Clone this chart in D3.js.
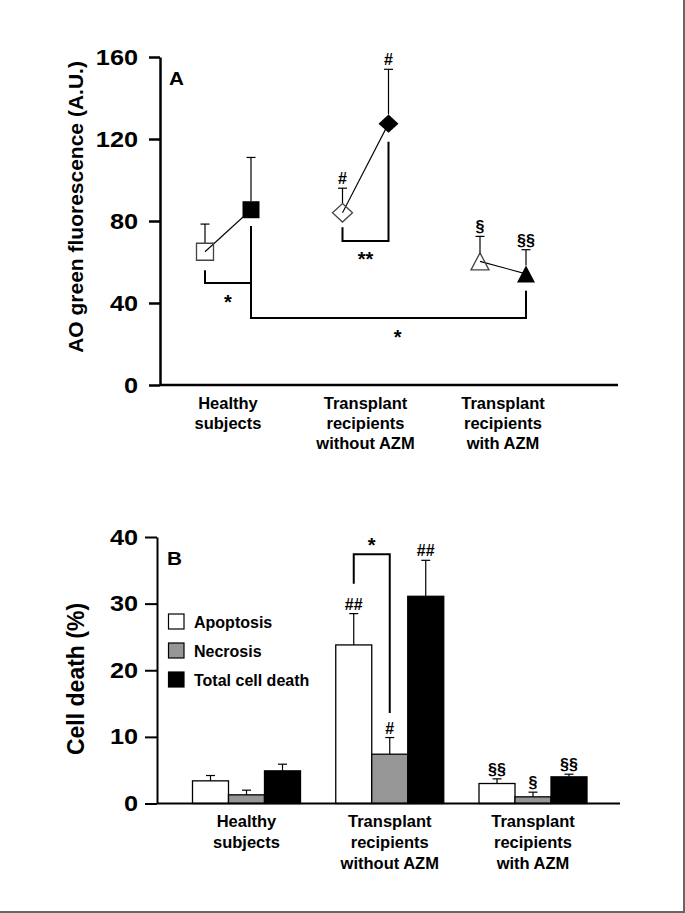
<!DOCTYPE html>
<html><head><meta charset="utf-8">
<script src="https://cdn.jsdelivr.net/npm/d3@7"></script>
<style>
html,body{margin:0;padding:0;background:#fff;}
svg{display:block;font-family:"Liberation Sans",Arial,sans-serif;}
</style></head>
<body>
<svg id="c" width="685" height="913"></svg>
<script>
// ---------- DATA ----------
const groups = ["Healthy subjects", "Transplant recipients without AZM", "Transplant recipients with AZM"];
const groupLines = [["Healthy","subjects"],["Transplant","recipients","without AZM"],["Transplant","recipients","with AZM"]];
// Panel A: AO green fluorescence (A.U.)
const aTicks = [0, 40, 80, 120, 160];
const aBaseline = [65, 84, 60.3];
const aBaselineErrTop = [78.5, 96, 72.5];
const aStim = [85.5, 127.5, 54.2];
const aStimErrTop = [111, 154, 66];
const aShapes = ["square", "diamond", "triangle"];
const aBaselineLabels = ["", "#", "§"];
const aStimLabels = ["", "#", "§§"];
// Panel B: Cell death (%)
const bTicks = [0, 10, 20, 30, 40];
const bSeries = ["Apoptosis", "Necrosis", "Total cell death"];
const bColors = ["#ffffff", "#969696", "#000000"];
const apoptosis = [3.4, 23.8, 3.0];
const apoptosisErr = [0.8, 4.7, 0.7];
const necrosis = [1.3, 7.4, 1.0];
const necrosisErr = [0.7, 2.5, 0.7];
const totalDeath = [4.9, 31.1, 4.0];
const totalDeathErr = [1.0, 5.4, 0.4];
const apoptosisLabels = ["", "##", "§§"];
const necrosisLabels = ["", "#", "§"];
const totalLabels = ["", "##", "§§"];

const svg = d3.select("#c");
const FONT = "Liberation Sans, Arial, sans-serif";
const STRETCH = 1.15;

// frame lines
svg.append("line").attr("x1",684).attr("x2",684).attr("y1",0).attr("y2",913).attr("stroke","#666").attr("stroke-width",2);
svg.append("line").attr("x1",0).attr("x2",685).attr("y1",912).attr("y2",912).attr("stroke","#666").attr("stroke-width",2);

function styleTicks(sel, tickLen, pad){
  sel.selectAll(".tick text").attr("font-family",FONT).attr("font-size",22).attr("font-weight","bold").attr("fill","#000")
    .attr("transform",`scale(${STRETCH},1)`).attr("x",-(tickLen+pad)/STRETCH);
}

// ---------- PANEL A ----------
const yA = d3.scaleLinear().domain([0,160]).range([385,57]);
const xA = d3.scalePoint().domain(groups).range([228, 503]);
const off = 23;
const gA = svg.append("g");

const axA = d3.axisLeft(yA).tickValues(aTicks).tickSize(11).tickPadding(11).tickSizeOuter(0);
const gAy = gA.append("g").attr("transform","translate(160,0)").call(axA);
gAy.select(".domain").attr("stroke","#000").attr("stroke-width",2.5);
gAy.selectAll(".tick line").attr("stroke","#000").attr("stroke-width",2.5);
styleTicks(gAy, 11, 11);
gA.append("line").attr("x1",160).attr("x2",618).attr("y1",yA(0)).attr("y2",yA(0)).attr("stroke","#000").attr("stroke-width",2.5);

gA.append("text").attr("transform",`translate(76,${207}) rotate(-90)`).attr("text-anchor","middle")
  .attr("font-family",FONT).attr("font-size",21).attr("font-weight","bold").attr("dy","0.35em").text("AO green fluorescence (A.U.)");
gA.append("text").attr("transform","translate(169,85) scale(1.15,1)").attr("font-family",FONT).attr("font-size",18).attr("font-weight","bold").text("A");

// x labels A
groupLines.forEach((lines,i)=>{
  lines.forEach((l,j)=>{
    gA.append("text").attr("x",xA(groups[i])).attr("y",409+j*20).attr("text-anchor","middle")
      .attr("font-family",FONT).attr("font-size",16.5).attr("font-weight","bold").text(l);
  });
});

function markerPath(shape, cx, cy){
  if(shape==="square"){const h=8.5;return `M${cx-h},${cy-h}H${cx+h}V${cy+h}H${cx-h}Z`;}
  if(shape==="diamond"){const w=10,h=9.2;return `M${cx},${cy-h}L${cx+w},${cy}L${cx},${cy+h}L${cx-w},${cy}Z`;}
  const w=9,h=8.5;return `M${cx},${cy-h}L${cx+w},${cy+h}L${cx-w},${cy+h}Z`;
}
function markerTop(shape, cy){ return shape==="square"?cy-8.5:(shape==="diamond"?cy-9.2:cy-8.5); }

groups.forEach((g,i)=>{
  const x0 = xA(g)-off, x1 = xA(g)+off;
  const y0 = yA(aBaseline[i]), y1 = yA(aStim[i]);
  const sh = aShapes[i];
  [[x0,y0,aBaselineErrTop[i],aBaselineLabels[i]],[x1,y1,aStimErrTop[i],aStimLabels[i]]].forEach(([x,y,et,lab])=>{
    const yt = yA(et);
    gA.append("line").attr("x1",x).attr("x2",x).attr("y1",markerTop(sh,y)).attr("y2",yt).attr("stroke","#000").attr("stroke-width",1.2);
    gA.append("line").attr("x1",x-4.5).attr("x2",x+4.5).attr("y1",yt).attr("y2",yt).attr("stroke","#000").attr("stroke-width",1.2);
    if(lab) gA.append("text").attr("x",x).attr("y",yt-4).attr("text-anchor","middle").attr("font-family",FONT)
      .attr("font-size",16).attr("font-weight","bold").text(lab);
  });
  gA.append("line").attr("x1",x0).attr("y1",y0).attr("x2",x1).attr("y2",y1).attr("stroke","#000").attr("stroke-width",1.1);
  gA.append("path").attr("d",markerPath(sh,x0,y0)).attr("fill","none").attr("stroke","#444").attr("stroke-width",1.3);
  gA.append("path").attr("d",markerPath(sh,x1,y1)).attr("fill","#000");
});

// significance brackets in A (values on the y scale)
const aBrackets = [
  {from:[0,-1,56], to:[0,1,77.6], level:49.8, label:"*", labelX:[0,0], labelY:41.5},
  {from:[1,-1,77], to:[1,1,118.7], level:70.2, label:"**", labelX:[1,0], labelY:62.6},
  {from:[0,1,77.6], to:[2,1,46], level:32.7, label:"*", labelX:[1,1.4], labelY:24.4}
];
aBrackets.forEach(b=>{
  const xa = xA(groups[b.from[0]])+b.from[1]*off, xb = xA(groups[b.to[0]])+b.to[1]*off;
  const ly = yA(b.level);
  gA.append("path").attr("d",`M${xa},${yA(b.from[2])}V${ly}H${xb}V${yA(b.to[2])}`)
    .attr("fill","none").attr("stroke","#000").attr("stroke-width",2);
  gA.append("text").attr("x",xA(groups[b.labelX[0]])+b.labelX[1]*off).attr("y",yA(b.labelY)+9)
    .attr("text-anchor","middle").attr("font-family",FONT).attr("font-size",20).attr("font-weight","bold").text(b.label);
});

// ---------- PANEL B ----------
const yB = d3.scaleLinear().domain([0,40]).range([803.5,537]);
const xB = d3.scalePoint().domain(groups).range([246.5, 533]);
const xS = d3.scaleBand().domain(bSeries).range([-54,54]);
const gB = svg.append("g");
const axB = d3.axisLeft(yB).tickValues(bTicks).tickSize(12).tickPadding(7).tickSizeOuter(0);
const gBy = gB.append("g").attr("transform","translate(157,0)").call(axB);
gBy.select(".domain").attr("stroke","#000").attr("stroke-width",2);
gBy.selectAll(".tick line").attr("stroke","#000").attr("stroke-width",2);
styleTicks(gBy, 12, 7);

gB.append("text").attr("transform",`translate(76,${679}) rotate(-90)`).attr("text-anchor","middle")
  .attr("font-family",FONT).attr("font-size",23).attr("font-weight","bold").attr("dy","0.35em").text("Cell death (%)");
gB.append("text").attr("transform","translate(167,565) scale(1.15,1)").attr("font-family",FONT).attr("font-size",18).attr("font-weight","bold").text("B");

const seriesVals = [apoptosis, necrosis, totalDeath];
const seriesErr = [apoptosisErr, necrosisErr, totalDeathErr];
const seriesLab = [apoptosisLabels, necrosisLabels, totalLabels];
groups.forEach((g,i)=>{
  bSeries.forEach((s,k)=>{
    const x = xB(g)+xS(s), w = xS.bandwidth(), v = seriesVals[k][i], e = seriesErr[k][i];
    const cx = x+w/2, yt = yB(v+e);
    gB.append("line").attr("x1",cx).attr("x2",cx).attr("y1",yB(v)).attr("y2",yt).attr("stroke","#000").attr("stroke-width",1.2);
    gB.append("line").attr("x1",cx-4.5).attr("x2",cx+4.5).attr("y1",yt).attr("y2",yt).attr("stroke","#000").attr("stroke-width",1.2);
    gB.append("rect").attr("x",x).attr("y",yB(v)).attr("width",w).attr("height",yB(0)-yB(v))
      .attr("fill",bColors[k]).attr("stroke","#000").attr("stroke-width",1.3);
    const lab = seriesLab[k][i];
    if(lab) gB.append("text").attr("x",cx).attr("y",yt-4).attr("text-anchor","middle").attr("font-family",FONT)
      .attr("font-size",16).attr("font-weight","bold").text(lab);
  });
});
gB.append("line").attr("x1",157).attr("x2",620).attr("y1",yB(0)).attr("y2",yB(0)).attr("stroke","#000").attr("stroke-width",2);

// bracket B
{
  const xa = xB(groups[1])+xS("Apoptosis")+xS.bandwidth()/2, xb = xB(groups[1])+xS("Necrosis")+xS.bandwidth()/2;
  gB.append("path").attr("d",`M${xa},${yB(33)}V${yB(37.4)}H${xb}V${yB(13.6)}`).attr("fill","none").attr("stroke","#000").attr("stroke-width",2);
  gB.append("text").attr("x",(xa+xb)/2).attr("y",yB(39.1)+9).attr("text-anchor","middle").attr("font-family",FONT)
    .attr("font-size",20).attr("font-weight","bold").text("*");
}

// legend
bSeries.forEach((s,k)=>{
  const ly = 614 + k*29;
  gB.append("rect").attr("x",168.5).attr("y",ly).attr("width",15.5).attr("height",15).attr("fill",bColors[k]).attr("stroke","#000").attr("stroke-width",1.2);
  gB.append("text").attr("x",194).attr("y",ly+13.5).attr("font-family",FONT).attr("font-size",16).attr("font-weight","bold").text(s);
});

// x labels B
groupLines.forEach((lines,i)=>{
  lines.forEach((l,j)=>{
    gB.append("text").attr("x",xB(groups[i])).attr("y",827+j*21).attr("text-anchor","middle")
      .attr("font-family",FONT).attr("font-size",16.5).attr("font-weight","bold").text(l);
  });
});
</script>
</body></html>
